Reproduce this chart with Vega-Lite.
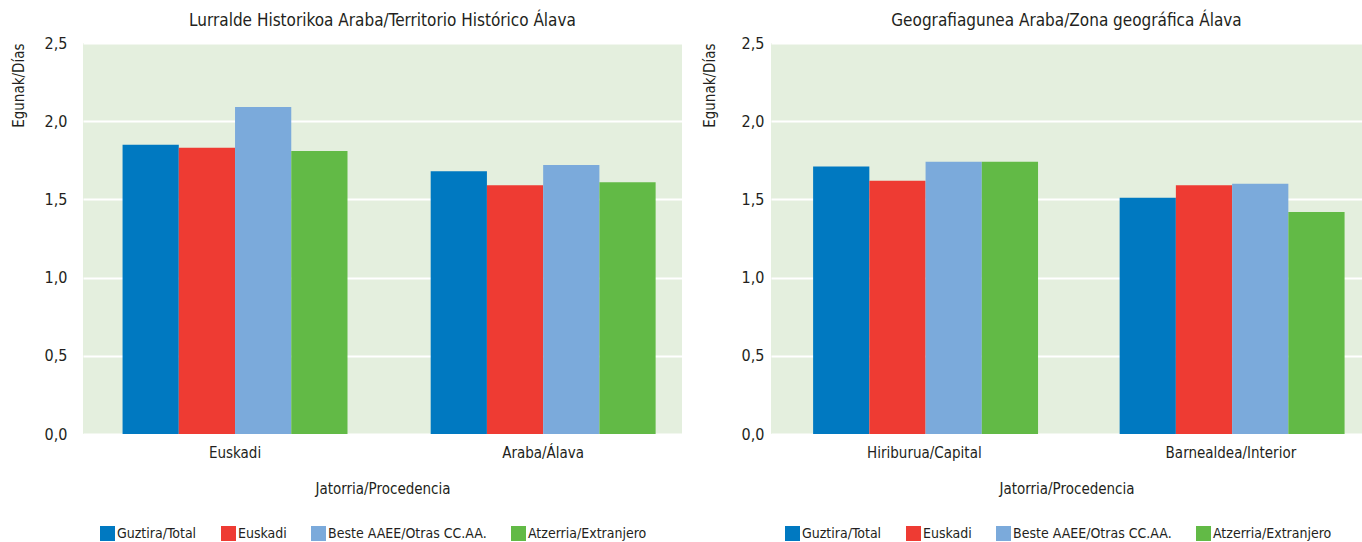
{
  "$schema": "https://vega.github.io/schema/vega-lite/v6.json",
  "background": "white",
  "padding": {"left": 11, "top": 12, "right": 0, "bottom": 0},
  "spacing": 20,
  "config": {
    "font": "Liberation Sans Narrow, DejaVu Sans Condensed, Liberation Sans",
    "view": {"fill": "#E4EFDE", "stroke": null},
    "axis": {
      "labelFontSize": 15, "labelColor": "#231F20", "titleColor": "#231F20",
      "titleFontWeight": "normal", "titleFontSize": 15,
      "domain": false, "ticks": false,
      "gridColor": "#FFFFFF", "gridWidth": 2, "gridOpacity": 1
    },
    "legend": {
      "orient": "none", "direction": "horizontal", "title": null,
      "symbolType": "square", "symbolSize": 225, "symbolStrokeWidth": 0,
      "labelFontSize": 14, "labelColor": "#231F20", "labelOffset": 2,
      "columnPadding": 24, "labelLimit": 400, "legendY": 483
    },
    "title": {"fontSize": 17, "fontWeight": "normal", "color": "#231F20", "offset": 5, "anchor": "middle"}
  },
  "datasets": {
    "d": [
      {"panel": "A", "origin": "Euskadi", "series": "Guztira/Total", "value": 1.85},
      {"panel": "A", "origin": "Euskadi", "series": "Euskadi", "value": 1.83},
      {"panel": "A", "origin": "Euskadi", "series": "Beste AAEE/Otras CC.AA.", "value": 2.09},
      {"panel": "A", "origin": "Euskadi", "series": "Atzerria/Extranjero", "value": 1.81},
      {"panel": "A", "origin": "Araba/Álava", "series": "Guztira/Total", "value": 1.68},
      {"panel": "A", "origin": "Araba/Álava", "series": "Euskadi", "value": 1.59},
      {"panel": "A", "origin": "Araba/Álava", "series": "Beste AAEE/Otras CC.AA.", "value": 1.72},
      {"panel": "A", "origin": "Araba/Álava", "series": "Atzerria/Extranjero", "value": 1.61},
      {"panel": "B", "origin": "Hiriburua/Capital", "series": "Guztira/Total", "value": 1.71},
      {"panel": "B", "origin": "Hiriburua/Capital", "series": "Euskadi", "value": 1.62},
      {"panel": "B", "origin": "Hiriburua/Capital", "series": "Beste AAEE/Otras CC.AA.", "value": 1.74},
      {"panel": "B", "origin": "Hiriburua/Capital", "series": "Atzerria/Extranjero", "value": 1.74},
      {"panel": "B", "origin": "Barnealdea/Interior", "series": "Guztira/Total", "value": 1.51},
      {"panel": "B", "origin": "Barnealdea/Interior", "series": "Euskadi", "value": 1.59},
      {"panel": "B", "origin": "Barnealdea/Interior", "series": "Beste AAEE/Otras CC.AA.", "value": 1.60},
      {"panel": "B", "origin": "Barnealdea/Interior", "series": "Atzerria/Extranjero", "value": 1.42}
    ]
  },
  "hconcat": [
    {
      "width": 599, "height": 391,
      "title": {"text": "Lurralde Historikoa Araba/Territorio Histórico Álava"},
      "data": {"name": "d"},
      "transform": [{"filter": "datum.panel === 'A'"}],
      "mark": {"type": "bar"},
      "encoding": {
        "x": {
          "field": "origin", "type": "nominal", "sort": ["Euskadi", "Araba/Álava"],
          "scale": {"paddingInner": 0.27, "paddingOuter": 0.107, "align": 0.6},
          "axis": {"labelAngle": 0, "title": "Jatorria/Procedencia", "grid": false, "labelPadding": 11, "titlePadding": 21}
        },
        "xOffset": {"field": "series", "type": "nominal", "sort": ["Guztira/Total", "Euskadi", "Beste AAEE/Otras CC.AA.", "Atzerria/Extranjero"], "scale": {"paddingInner": 0, "paddingOuter": 0}},
        "y": {
          "field": "value", "type": "quantitative", "scale": {"domain": [0, 2.5]},
          "axis": {"values": [0, 0.5, 1, 1.5, 2, 2.5], "labelFontSize": 16, "labelExpr": "replace(format(datum.value, '.1f'), '.', ',')", "title": "Egunak/Días", "titleAnchor": "end", "labelPadding": 16, "titlePadding": 18}
        },
        "color": {
          "field": "series", "type": "nominal",
          "scale": {"domain": ["Guztira/Total", "Euskadi", "Beste AAEE/Otras CC.AA.", "Atzerria/Extranjero"], "range": ["#0079C1", "#EE3B33", "#7BAADB", "#62BA46"]},
          "legend": {"legendX": 17}
        }
      }
    },
    {
      "width": 591, "height": 391,
      "title": {"text": "Geografiagunea Araba/Zona geográfica Álava"},
      "data": {"name": "d"},
      "transform": [{"filter": "datum.panel === 'B'"}],
      "mark": {"type": "bar"},
      "encoding": {
        "x": {
          "field": "origin", "type": "nominal", "sort": ["Hiriburua/Capital", "Barnealdea/Interior"],
          "scale": {"paddingInner": 0.274, "paddingOuter": 0.101, "align": 0.68},
          "axis": {"labelAngle": 0, "title": "Jatorria/Procedencia", "grid": false, "labelPadding": 11, "titlePadding": 21}
        },
        "xOffset": {"field": "series", "type": "nominal", "sort": ["Guztira/Total", "Euskadi", "Beste AAEE/Otras CC.AA.", "Atzerria/Extranjero"], "scale": {"paddingInner": 0, "paddingOuter": 0}},
        "y": {
          "field": "value", "type": "quantitative", "scale": {"domain": [0, 2.5]},
          "axis": {"values": [0, 0.5, 1, 1.5, 2, 2.5], "labelFontSize": 16, "labelExpr": "replace(format(datum.value, '.1f'), '.', ',')", "title": "Egunak/Días", "titleAnchor": "end", "labelPadding": 7, "titlePadding": 24}
        },
        "color": {
          "field": "series", "type": "nominal",
          "scale": {"domain": ["Guztira/Total", "Euskadi", "Beste AAEE/Otras CC.AA.", "Atzerria/Extranjero"], "range": ["#0079C1", "#EE3B33", "#7BAADB", "#62BA46"]},
          "legend": {"legendX": 14}
        }
      }
    }
  ],
  "resolve": {"scale": {"color": "independent"}, "legend": {"color": "independent"}}
}
